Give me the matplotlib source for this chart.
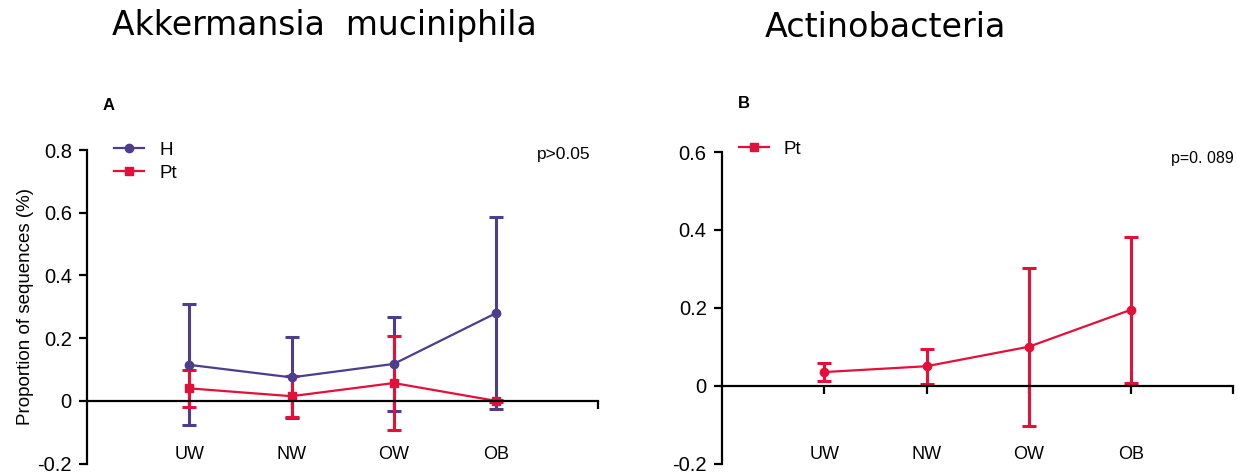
import numpy as np
import matplotlib
matplotlib.use("Agg")
import matplotlib.pyplot as plt
from matplotlib.lines import Line2D

plt.rcParams["font.family"] = ["Liberation Sans", "DejaVu Sans"]

groups = ["UW", "NW", "OW", "OB"]

# panel A: Akkermansia muciniphila
akk_h = [0.115, 0.075, 0.118, 0.280]
akk_h_err = [0.193, 0.130, 0.150, 0.307]
akk_pt = [0.040, 0.015, 0.057, 0.000]
akk_pt_err = [0.058, 0.065, 0.150, 0.002]

# panel B: Actinobacteria
act_pt = [0.035, 0.050, 0.100, 0.195]
act_pt_err = [0.023, 0.045, 0.203, 0.187]

PURPLE = "#4e3d8c"
RED = "#e3103a"

fig = plt.figure(figsize=(12.38, 4.75), dpi=100)
axA = fig.add_axes([0.0703, 0.024, 0.413, 0.660])
axB = fig.add_axes([0.5832, 0.024, 0.413, 0.656])

x = np.arange(1, len(groups) + 1)


def style_axis(ax, ylim, yticks, ylabels):
    ax.set_xlim(0, 5)
    ax.set_ylim(*ylim)
    for s in ["top", "right"]:
        ax.spines[s].set_visible(False)
    ax.spines["bottom"].set_position(("data", 0))
    ax.spines["bottom"].set_linewidth(1.6)
    ax.spines["left"].set_linewidth(1.6)
    ax.set_xticks(list(x) + [5])
    ax.set_xticklabels([])
    ax.tick_params(axis="x", direction="out", length=6, width=1.6)
    ax.set_yticks(yticks)
    ax.set_yticklabels(ylabels, fontsize=14.5)
    ax.tick_params(axis="y", direction="out", length=6, width=1.6, pad=5)
    for xi, g in zip(x, groups):
        ax.text(xi, 0.03, g, transform=ax.get_xaxis_transform(),
                ha="center", va="center", fontsize=13)


# panel A
style_axis(axA, (-0.2, 0.8), [-0.2, 0, 0.2, 0.4, 0.6, 0.8],
           ["-0.2", "0", "0.2", "0.4", "0.6", "0.8"])
axA.errorbar(x, akk_h, yerr=akk_h_err, color=PURPLE, marker="o", ms=6,
             lw=1.6, elinewidth=2.2, capsize=5, capthick=2.2, label="H")
axA.errorbar(x, akk_pt, yerr=akk_pt_err, color=RED, marker="s", ms=6,
             lw=1.6, elinewidth=2.2, capsize=5, capthick=2.2, label="Pt")
axA.set_ylabel("Proportion of sequences (%)", fontsize=13.5, labelpad=2)
handles = [Line2D([], [], color=PURPLE, marker="o", ms=6, lw=1.6),
           Line2D([], [], color=RED, marker="s", ms=6, lw=1.6)]
axA.legend(handles, ["H", "Pt"], loc="upper left", bbox_to_anchor=(0.02, 1.08),
           frameon=False, fontsize=13.5, handlelength=1.6, labelspacing=0.3)
axA.text(0.985, 0.985, "p>0.05", transform=axA.transAxes, ha="right",
         va="center", fontsize=12.5)
fig.text(0.083, 0.778, "A", fontsize=12, fontweight="bold", va="center")
fig.text(0.262, 0.926, "Akkermansia  muciniphila", fontsize=23.8, ha="center",
         va="baseline", family="DejaVu Sans")

# panel B
style_axis(axB, (-0.2, 0.6), [-0.2, 0, 0.2, 0.4, 0.6],
           ["-0.2", "0", "0.2", "0.4", "0.6"])
axB.errorbar(x, act_pt, yerr=act_pt_err, color=RED, marker="o", ms=6,
             lw=1.6, elinewidth=2.2, capsize=5, capthick=2.2)
axB.legend([Line2D([], [], color=RED, marker="s", ms=6, lw=1.6)], ["Pt"],
           loc="upper left", bbox_to_anchor=(0.0, 1.09), frameon=False,
           fontsize=13.5, handlelength=1.6)
axB.text(1.0, 0.98, "p=0. 089", transform=axB.transAxes, ha="right",
         va="center", fontsize=11.5)
fig.text(0.596, 0.783, "B", fontsize=12, fontweight="bold", va="center")
fig.text(0.715, 0.922, "Actinobacteria", fontsize=24, ha="center",
         va="baseline", family="DejaVu Sans")

fig.savefig("out.png", dpi=100)
